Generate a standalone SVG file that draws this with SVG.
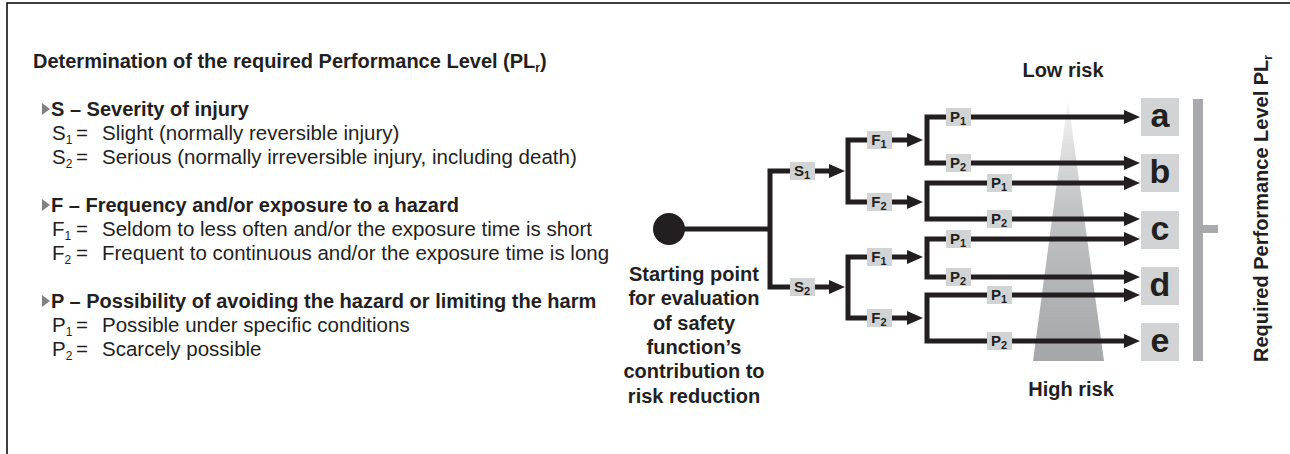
<svg xmlns="http://www.w3.org/2000/svg" width="1290" height="454" viewBox="0 0 1290 454">
<defs>
<style>
text{font-family:"Liberation Sans",Arial,Helvetica,sans-serif;fill:#231f20}
.h{font-size:20px;font-weight:bold}
.t{font-size:20.5px}
.sub{font-size:12px}
.bul{fill:#808285}
.conn{fill:none;stroke:#231f20;stroke-width:5;stroke-linejoin:miter;stroke-linecap:butt}
.lbl{fill:#d1d3d4}
.lt{font-size:15px;font-weight:bold;text-anchor:middle}
.lsub{font-size:11px}
.res{fill:#d1d3d4}
.rt{font-size:34px;font-weight:bold;text-anchor:middle}
.ann{font-size:20px;font-weight:bold;text-anchor:middle}
</style>
<marker id="arr" markerUnits="userSpaceOnUse" markerWidth="16" markerHeight="14" viewBox="0 0 16 14" refX="0" refY="7" orient="auto">
<path d="M0,0 L16,7 L0,14 z" fill="#231f20"/>
</marker>
<linearGradient id="risk" x1="0" y1="0" x2="0" y2="1">
<stop offset="0" stop-color="#f6f6f6"/>
<stop offset="0.4" stop-color="#c3c4c6"/>
<stop offset="1" stop-color="#a4a6a9"/>
</linearGradient>
</defs>

<path d="M7,454 V3 H1290" fill="none" stroke="#000" stroke-width="1.5"/>

<g id="legend">
<text class="h" x="33" y="68">Determination of the required Performance Level (PL<tspan class="sub" dy="4">r</tspan><tspan dy="-4">)</tspan></text>

<polygon class="bul" points="42,103 50,109 42,115"/>
<text class="h" x="51" y="116">S – Severity of injury</text>
<text class="t" x="52" y="140">S<tspan class="sub" dy="4">1</tspan><tspan x="76" y="140">=</tspan><tspan x="102" y="140">Slight (normally reversible injury)</tspan></text>
<text class="t" x="52" y="164">S<tspan class="sub" dy="4">2</tspan><tspan x="76" y="164">=</tspan><tspan x="102" y="164">Serious (normally irreversible injury, including death)</tspan></text>

<polygon class="bul" points="42,199 50,205 42,211"/>
<text class="h" x="51" y="212">F – Frequency and/or exposure to a hazard</text>
<text class="t" x="52" y="236">F<tspan class="sub" dy="4">1</tspan><tspan x="76" y="236">=</tspan><tspan x="102" y="236">Seldom to less often and/or the exposure time is short</tspan></text>
<text class="t" x="52" y="260">F<tspan class="sub" dy="4">2</tspan><tspan x="76" y="260">=</tspan><tspan x="102" y="260">Frequent to continuous and/or the exposure time is long</tspan></text>

<polygon class="bul" points="42,295 50,301 42,307"/>
<text class="h" x="51" y="308">P – Possibility of avoiding the hazard or limiting the harm</text>
<text class="t" x="52" y="332">P<tspan class="sub" dy="4">1</tspan><tspan x="76" y="332">=</tspan><tspan x="102" y="332">Possible under specific conditions</tspan></text>
<text class="t" x="52" y="356">P<tspan class="sub" dy="4">2</tspan><tspan x="76" y="356">=</tspan><tspan x="102" y="356">Scarcely possible</tspan></text>
</g>

<g id="risk-scale">
<polygon points="1068,100 1104,361 1033,361" fill="url(#risk)"/>
<text class="ann" x="1063" y="77">Low risk</text>
<text class="ann" x="1071" y="396">High risk</text>
</g>

<g id="connectors" class="conn">
<path d="M669,229 H770"/>
<path d="M770,229 V171 H829" marker-end="url(#arr)"/>
<path d="M770,229 V287 H829" marker-end="url(#arr)"/>
<path d="M848,171 V140 H907" marker-end="url(#arr)"/>
<path d="M848,171 V202 H907" marker-end="url(#arr)"/>
<path d="M848,287 V257 H907" marker-end="url(#arr)"/>
<path d="M848,287 V318 H907" marker-end="url(#arr)"/>
<path d="M927,140 V117 H1124" marker-end="url(#arr)"/>
<path d="M927,140 V163 H1124" marker-end="url(#arr)"/>
<path d="M927,201 V183 H1124" marker-end="url(#arr)"/>
<path d="M927,201 V219 H1124" marker-end="url(#arr)"/>
<path d="M927,258 V239 H1124" marker-end="url(#arr)"/>
<path d="M927,258 V277 H1124" marker-end="url(#arr)"/>
<path d="M927,318 V295 H1124" marker-end="url(#arr)"/>
<path d="M927,318 V341 H1124" marker-end="url(#arr)"/>
</g>

<g id="start">
<circle cx="669" cy="229" r="16" fill="#231f20"/>
<text class="ann" x="694" y="281">Starting point</text>
<text class="ann" x="694" y="305">for evaluation</text>
<text class="ann" x="694" y="330">of safety</text>
<text class="ann" x="694" y="354">function’s</text>
<text class="ann" x="694" y="378">contribution to</text>
<text class="ann" x="694" y="403">risk reduction</text>
</g>

<g id="S1"><rect class="lbl" x="790" y="162" width="25" height="18"/><text class="lt" x="802" y="176">S<tspan class="lsub" dy="3">1</tspan></text></g>
<g id="S2"><rect class="lbl" x="790" y="278" width="25" height="18"/><text class="lt" x="802" y="292">S<tspan class="lsub" dy="3">2</tspan></text></g>

<g id="S1-F1"><rect class="lbl" x="867" y="131" width="25" height="18"/><text class="lt" x="879" y="145">F<tspan class="lsub" dy="3">1</tspan></text></g>
<g id="S1-F2"><rect class="lbl" x="867" y="193" width="25" height="18"/><text class="lt" x="879" y="207">F<tspan class="lsub" dy="3">2</tspan></text></g>
<g id="S2-F1"><rect class="lbl" x="867" y="248" width="25" height="18"/><text class="lt" x="879" y="262">F<tspan class="lsub" dy="3">1</tspan></text></g>
<g id="S2-F2"><rect class="lbl" x="867" y="309" width="25" height="18"/><text class="lt" x="879" y="323">F<tspan class="lsub" dy="3">2</tspan></text></g>

<g id="P-a"><rect class="lbl" x="946" y="108" width="25" height="18"/><text class="lt" x="958" y="122">P<tspan class="lsub" dy="3">1</tspan></text></g>
<g id="P-b1"><rect class="lbl" x="946" y="154" width="25" height="18"/><text class="lt" x="958" y="168">P<tspan class="lsub" dy="3">2</tspan></text></g>
<g id="P-b2"><rect class="lbl" x="987" y="174" width="25" height="18"/><text class="lt" x="999" y="188">P<tspan class="lsub" dy="3">1</tspan></text></g>
<g id="P-c1"><rect class="lbl" x="987" y="210" width="25" height="18"/><text class="lt" x="999" y="224">P<tspan class="lsub" dy="3">2</tspan></text></g>
<g id="P-c2"><rect class="lbl" x="946" y="230" width="25" height="18"/><text class="lt" x="958" y="244">P<tspan class="lsub" dy="3">1</tspan></text></g>
<g id="P-d1"><rect class="lbl" x="946" y="268" width="25" height="18"/><text class="lt" x="958" y="282">P<tspan class="lsub" dy="3">2</tspan></text></g>
<g id="P-d2"><rect class="lbl" x="987" y="286" width="25" height="18"/><text class="lt" x="999" y="300">P<tspan class="lsub" dy="3">1</tspan></text></g>
<g id="P-e"><rect class="lbl" x="987" y="332" width="25" height="18"/><text class="lt" x="999" y="346">P<tspan class="lsub" dy="3">2</tspan></text></g>

<g id="PL-a"><rect class="res" x="1141" y="98" width="38" height="38"/><text class="rt" x="1160" y="127">a</text></g>
<g id="PL-b"><rect class="res" x="1141" y="154" width="38" height="38"/><text class="rt" x="1160" y="183">b</text></g>
<g id="PL-c"><rect class="res" x="1141" y="211" width="38" height="38"/><text class="rt" x="1160" y="240">c</text></g>
<g id="PL-d"><rect class="res" x="1141" y="267" width="38" height="38"/><text class="rt" x="1160" y="296">d</text></g>
<g id="PL-e"><rect class="res" x="1141" y="323" width="38" height="38"/><text class="rt" x="1160" y="352">e</text></g>

<g id="PL-bracket">
<path d="M1193,99 H1203 V225 H1218 V233 H1203 V361 H1193 Z" fill="#a7a9ac"/>
<text class="h" transform="translate(1268,362) rotate(-90)">Required Performance Level PL<tspan class="sub" dy="4">r</tspan></text>
</g>
</svg>
